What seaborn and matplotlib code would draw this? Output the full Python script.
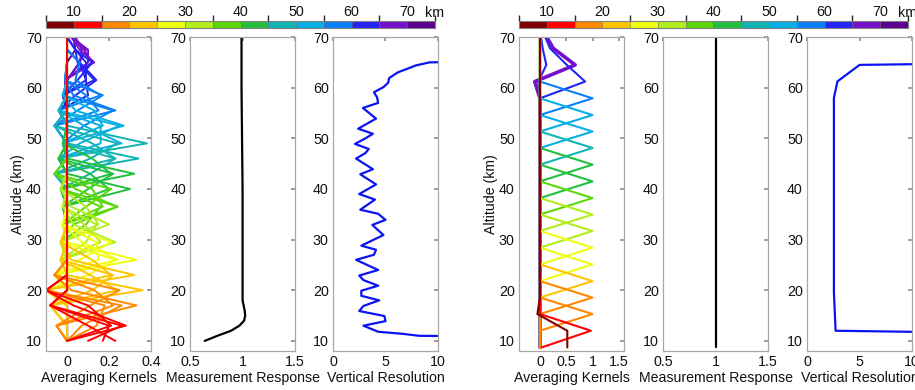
import matplotlib
matplotlib.use("Agg")
import matplotlib.pyplot as plt
import matplotlib as mpl
import numpy as np
import pandas as pd
import seaborn as sns
from matplotlib.colors import ListedColormap, BoundaryNorm
from matplotlib.ticker import FormatStrFormatter

# colour bins of the altitude colourbar (5 km wide)
bin_edges = [5, 10, 15, 20, 25, 30, 35, 40, 45, 50, 55, 60, 65, 70, 75]
bin_colours = ['#7f0000', '#ff0000', '#ff8800', '#ffc400', '#f0ff10', '#b2ee1c',
               '#5cd808', '#22c040', '#12b4b4', '#06b0e4', '#0a80f8', '#2424f4',
               '#7410cc', '#5c0090']
cbar_ticks = [10, 20, 30, 40, 50, 60, 70]

# ---- left retrieval ----
# corner altitudes of the kernels and the side-lobe value at each corner
ak_left_grid = [10, 13, 17, 20, 23, 26, 29.5, 33, 36.5, 40, 43, 46, 49, 52.5, 55.5,
                58.5, 61.5, 65, 67.5, 70]
ak_left_lobe = [0.0, -0.05, -0.08, -0.10, -0.06, -0.03, -0.03, -0.02, -0.02, -0.03,
                -0.06, -0.04, -0.02, -0.06, -0.04, -0.02, -0.01, 0.06, 0.04, 0.02]
# one kernel per km, value at the corner below and the corner above it
ak_left_alt = list(range(10, 71))
ak_left_lo = [0.23, 0.17, 0.10,
              0.28, 0.21, 0.14, 0.07,
              0.33, 0.22, 0.11,
              0.36, 0.24, 0.12,
              0.32, 0.21, 0.10,
              0.33, 0.24, 0.15, 0.06,
              0.23, 0.16, 0.09,
              0.20, 0.15, 0.09, 0.03,
              0.24, 0.17, 0.09,
              0.30, 0.20, 0.10,
              0.32, 0.21, 0.11,
              0.34, 0.23, 0.11,
              0.38, 0.26, 0.16, 0.06,
              0.27, 0.17, 0.08,
              0.23, 0.15, 0.05,
              0.16, 0.10, 0.04,
              0.13, 0.09, 0.05,
              0.13, 0.12, 0.10,
              0.09, 0.07,
              0.03]
ak_left_hi = [0.10, 0.20, 0.26,
              0.03, 0.10, 0.18, 0.26,
              0.02, 0.13, 0.25,
              0.00, 0.11, 0.22,
              0.02, 0.12, 0.23,
              0.00, 0.07, 0.14, 0.21,
              0.03, 0.08, 0.14,
              0.02, 0.09, 0.16, 0.24,
              0.04, 0.12, 0.21,
              0.00, 0.11, 0.22,
              0.00, 0.12, 0.23,
              0.00, 0.12, 0.24,
              0.00, 0.08, 0.16, 0.25,
              0.04, 0.13, 0.22,
              0.03, 0.09, 0.17,
              0.04, 0.09, 0.14,
              0.05, 0.09, 0.12,
              0.06, 0.08, 0.10,
              0.03, 0.04,
              0.00]

mr_left_alt = [10, 11, 12, 13, 14, 15, 16, 17, 18, 30, 40, 50, 60, 70]
mr_left_val = [0.64, 0.76, 0.89, 0.97, 1.015, 1.025, 1.02, 1.01, 1.0, 1.0, 1.0,
               0.995, 0.99, 0.99]

vr_left_alt = [10.8, 11.0, 11.4, 11.8, 13.0, 13.9, 14.9, 15.9, 16.9, 18.0, 18.9, 19.9,
               20.9, 22.0, 22.9, 24.0, 26.0, 27.0, 28.0, 28.8, 30.9, 32.9, 33.9, 35.1,
               35.9, 37.9, 39.0, 40.9, 42.9, 43.9, 46.0, 47.1, 47.9, 48.9, 50.0, 50.9,
               51.9, 53.9, 56.0, 57.0, 58.1, 59.1, 60.1, 61.0, 61.9, 63.0, 64.4, 65.0,
               65.3]
vr_left_val = [20.0, 8.2, 6.6, 4.3, 2.9, 5.0, 4.9, 2.5, 2.9, 4.4, 2.7, 2.7,
               4.3, 2.9, 2.5, 4.3, 2.2, 3.9, 4.1, 2.7, 4.8, 3.75, 5.0, 4.3,
               2.6, 4.0, 2.5, 4.1, 2.6, 3.8, 2.2, 3.1, 3.4, 2.1, 3.1, 3.8,
               2.4, 4.1, 2.85, 4.3, 4.2, 3.9, 4.8, 5.26, 5.35, 6.15, 7.9, 9.2,
               20.0]

# ---- right retrieval ----
ak_right_grid = [8.7, 12.0, 15.3, 18.55, 21.8, 25.1, 28.4, 31.7, 34.95, 38.2, 41.5,
                 44.8, 48.1, 51.35, 54.6, 57.9, 61.2, 64.5, 67.8, 70.0]
ak_right_alt = ak_right_grid[:-1]
ak_right_peak = [0.52, 0.97, 1.0, 1.0, 1.0, 1.0, 1.0, 1.0, 1.0, 1.0, 1.0, 1.0, 1.0,
                 1.0, 1.0, 1.0, 0.86, 0.12, 0.25]
# (kernel index, grid index, value) for off-diagonal entries
ak_right_extra = [(0, 1, 0.52), (0, 2, -0.05), (1, 0, 0.03),
                  (16, 17, 0.51), (16, 18, 0.19), (16, 19, 0.10),
                  (17, 16, -0.03), (17, 18, 0.05), (17, 19, 0.02),
                  (18, 16, -0.10), (18, 17, 0.67), (18, 19, 0.13)]

mr_right_alt = [8.7, 20, 30, 40, 50, 60, 70]
mr_right_val = [1.0, 1.0, 1.0, 1.0, 1.0, 1.0, 1.0]

vr_right_alt = [11.5, 12.0, 19.5, 30.0, 40.0, 50.0, 58.0, 61.25, 64.5, 64.9]
vr_right_val = [20.0, 2.72, 2.56, 2.56, 2.56, 2.56, 2.56, 2.9, 5.0, 20.0]

TICK_FS = 10.3
LABEL_FS = 10.2


def colour_for(alt):
    idx = np.digitize(alt, bin_edges) - 1
    return bin_colours[int(np.clip(idx, 0, len(bin_colours) - 1))]


def left_kernel(i):
    z = ak_left_alt[i]
    lo = max(k for k, g in enumerate(ak_left_grid) if g <= z)
    vals = [0.0] * len(ak_left_grid)
    if lo - 1 >= 0:
        vals[lo - 1] = ak_left_lobe[lo - 1]
    vals[lo] = ak_left_lo[i]
    if lo + 1 < len(ak_left_grid):
        vals[lo + 1] = ak_left_hi[i]
    if lo + 2 < len(ak_left_grid):
        vals[lo + 2] = ak_left_lobe[lo + 2]
    return pd.DataFrame({'alt': ak_left_grid, 'ak': vals})


def right_kernels():
    n = len(ak_right_alt)
    mat = np.zeros((n, len(ak_right_grid)))
    for i, p in enumerate(ak_right_peak):
        mat[i, i] = p
    for i, j, v in ak_right_extra:
        mat[i, j] = v
    return mat


def style_axis(ax, xlim, xticks, xlabel):
    ax.set_xlim(xlim)
    ax.set_ylim(8, 70)
    ax.set_xticks(xticks)
    ax.set_yticks(cbar_ticks)
    ax.xaxis.set_major_formatter(FormatStrFormatter('%g'))
    ax.tick_params(direction='in', top=True, right=True, length=3, color='#909090',
                   labelsize=TICK_FS, labelcolor='#111111', pad=3)
    for s in ax.spines.values():
        s.set_color('#a8a8a8')
        s.set_linewidth(0.9)
    ax.set_xlabel(xlabel, fontsize=LABEL_FS, labelpad=1, color='#111111')
    ax.set_ylabel('')


def add_colourbar(fig, rect):
    cax = fig.add_axes(rect)
    cmap = ListedColormap(bin_colours)
    norm = BoundaryNorm(bin_edges, cmap.N)
    cb = fig.colorbar(mpl.cm.ScalarMappable(norm=norm, cmap=cmap), cax=cax,
                      orientation='horizontal', ticks=cbar_ticks, drawedges=True)
    cax.xaxis.set_ticks_position('top')
    cax.tick_params(length=0, labelsize=TICK_FS, pad=1.5, labelcolor='#111111')
    cb.outline.set_edgecolor('#808080')
    cb.outline.set_linewidth(0.8)
    cb.dividers.set_color('#707070')
    cb.dividers.set_linewidth(0.4)
    cax.text(1.0, 1.2, 'km', transform=cax.transAxes, ha='center', va='bottom',
             fontsize=TICK_FS, color='#111111')


sns.set_theme(style='white')
plt.rcParams['font.family'] = ['Liberation Sans', 'DejaVu Sans']

fig = plt.figure(figsize=(9.15, 3.9), dpi=100)
bottom, height = 0.1, 0.805
w = 0.1148
left_x = [0.0503, 0.2077, 0.3639]
right_x = [0.5672, 0.7246, 0.882]

# left group
ax1 = fig.add_axes([left_x[0], bottom, w, height])
for i in reversed(range(len(ak_left_alt))):
    sns.lineplot(data=left_kernel(i), x='ak', y='alt', sort=False, estimator=None,
                 color=colour_for(ak_left_alt[i]), lw=1.4, ax=ax1)
style_axis(ax1, (-0.1, 0.4), [0, 0.2, 0.4], 'Averaging Kernels')
ax1.set_ylabel('Altitude (km)', fontsize=LABEL_FS, labelpad=1, color='#111111')

ax2 = fig.add_axes([left_x[1], bottom, w, height])
sns.lineplot(x=mr_left_val, y=mr_left_alt, sort=False, estimator=None, color='black',
             lw=1.6, ax=ax2)
style_axis(ax2, (0.5, 1.5), [0.5, 1, 1.5], 'Measurement Response')

ax3 = fig.add_axes([left_x[2], bottom, w, height])
sns.lineplot(x=vr_left_val, y=vr_left_alt, sort=False, estimator=None, color='#0a14f0',
             lw=1.6, ax=ax3)
style_axis(ax3, (0, 10), [0, 5, 10], 'Vertical Resolution')

# right group
ax4 = fig.add_axes([right_x[0], bottom, w, height])
kmat = right_kernels()
for i in reversed(range(len(ak_right_alt))):
    df = pd.DataFrame({'alt': ak_right_grid, 'ak': kmat[i]})
    sns.lineplot(data=df, x='ak', y='alt', sort=False, estimator=None,
                 color=colour_for(ak_right_alt[i]), lw=2.6 if i == len(ak_right_alt) - 1 else 1.5,
                 ax=ax4)
style_axis(ax4, (-0.4, 1.6), [0, 0.5, 1, 1.5], 'Averaging Kernels')
ax4.set_ylabel('Altitude (km)', fontsize=LABEL_FS, labelpad=1, color='#111111')

ax5 = fig.add_axes([right_x[1], bottom, w, height])
sns.lineplot(x=mr_right_val, y=mr_right_alt, sort=False, estimator=None, color='black',
             lw=1.6, ax=ax5)
style_axis(ax5, (0.5, 1.5), [0.5, 1, 1.5], 'Measurement Response')

ax6 = fig.add_axes([right_x[2], bottom, w, height])
sns.lineplot(x=vr_right_val, y=vr_right_alt, sort=False, estimator=None, color='#0a14f0',
             lw=1.6, ax=ax6)
style_axis(ax6, (0, 10), [0, 5, 10], 'Vertical Resolution')

add_colourbar(fig, [left_x[0], 0.928, 0.4251, 0.018])
add_colourbar(fig, [right_x[0], 0.928, 0.4251, 0.018])

fig.savefig('out.png', dpi=100)
